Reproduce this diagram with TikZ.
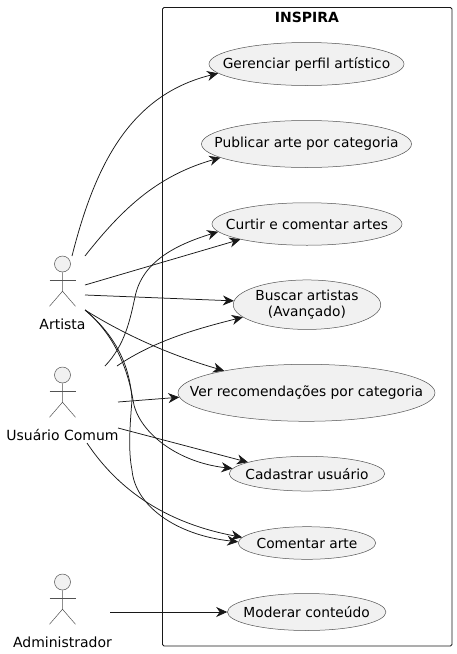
\documentclass[tikz,border=0pt]{standalone}
\usepackage{fontspec}
\setmainfont{DejaVu Sans}
\usetikzlibrary{arrows.meta, shapes.geometric, positioning, calc}
\definecolor{umlink}{RGB}{24,24,24}
\definecolor{umlfill}{RGB}{241,241,241}
\newcommand{\uctext}[1]{\makebox[0pt]{\shortstack[c]{#1}}}

\begin{document}
\begin{tikzpicture}[
  x=1pt, y=-1pt,
  usecase/.style={draw=umlink!75, fill=umlfill, ellipse, inner sep=0pt, line width=0.5pt,
              font=\fontsize{13.8}{16}\selectfont},
  system/.style={draw=umlink, rounded corners=1.5pt, line width=0.8pt},
  head/.style={draw=umlink!75, fill=umlfill, circle, inner sep=0pt, minimum size=16pt, line width=0.5pt},
  limb/.style={draw=umlink!75, line width=0.5pt},
  lbl/.style={font=\fontsize{14}{16}\selectfont, text=black, inner sep=0pt},
  arr/.style={-{Stealth[length=11pt, width=10pt, inset=3.5pt]}, color=umlink, line width=0.75pt},
  actor/.pic={
    \node[head] (-top) at (0,0) {};
    \draw[limb] (-top.south) -- ++(0,19) -- ++(-13,15) ++(13,-15) -- ++(13,15);
    \draw[limb] ($(-top.south)+(-13,8)$) -- ++(26,0);
  },
]
\useasboundingbox (0,0) rectangle (456,654);

% ── System ───────────────────────────────────────────────────
\draw[system] (162.5,7.5) rectangle (452,646);
\node[lbl, font=\fontsize{14}{16}\selectfont\bfseries] (inspira) at (307,17) {INSPIRA};

% ── Use cases ────────────────────────────────────────────────
\node[usecase, minimum width=195pt, minimum height=43pt] (gerenciar) at (306.5,64) {\uctext{Gerenciar perfil artístico}};
\node[usecase, minimum width=210pt, minimum height=47pt] (publicar) at (306.5,144) {\uctext{Publicar arte por categoria}};
\node[usecase, minimum width=190pt, minimum height=42.5pt] (curtir) at (307,224) {\uctext{Curtir e comentar artes}};
\node[usecase, minimum width=147.5pt, minimum height=49.5pt] (buscar) at (307,304.7) {\uctext{Buscar artistas\\[2.5pt](Avançado)}};
\node[usecase, minimum width=257pt, minimum height=57pt] (ver) at (306.5,392.8) {\uctext{Ver recomendações por categoria}};
\node[usecase, minimum width=155.5pt, minimum height=34.7pt] (cadastrar) at (307,473.7) {\uctext{Cadastrar usuário}};
\node[usecase, minimum width=137.5pt, minimum height=32.6pt] (comentar) at (307,543) {\uctext{Comentar arte}};
\node[usecase, minimum width=158.5pt, minimum height=37pt] (moderar) at (306.7,612) {\uctext{Moderar conteúdo}};

% ── Actors ───────────────────────────────────────────────────
\pic (artista) at (62.5,264) {actor};
\node[lbl] (artistalbl) at (62.5,324) {Artista};
\pic (comum) at (62.5,375) {actor};
\node[lbl] (comumlbl) at (62.5,435) {Usuário Comum};
\pic (admin) at (62.5,582) {actor};
\node[lbl] (adminlbl) at (62.5,642) {Administrador};

% free ends of the connectors
\coordinate (artA) at (72,256);
\coordinate (artB) at (85,256);
\coordinate (artC) at (85,285);
\coordinate (artD) at (85,295);
\coordinate (artE) at (85,310);
\coordinate (comA) at (105,366);
\coordinate (comB) at (117,366);
\coordinate (comC) at (118,402);
\coordinate (comD) at (118,428);
\coordinate (comE) at (87,443);
\coordinate (admA) at (110,612);

% ── Artista ──────────────────────────────────────────────────
\draw[arr] (artA) .. controls (95,165) and (130,95) .. (gerenciar.186);
\draw[arr] (artB) .. controls (125,205) and (160,175) .. (publicar.189);
\draw[arr] (artC) -- (curtir.193);
\draw[arr] (artD) -- (buscar.177.1);
\draw[arr] (artE) .. controls (125,335) and (170,355) .. (ver.165.9);
\draw[arr] (artE) .. controls (115,335) and (128,370) .. (133,400) .. controls (137,430) and (175,462) .. (cadastrar.176.5);
\draw[arr] (artE) .. controls (115,335) and (130,365) .. (132,400) .. controls (130,425) and (128,450) .. (132,470) .. controls (135,505) and (175,535) .. (comentar.179.4);

% ── Usuário Comum ────────────────────────────────────────────
\draw[arr] (comA) .. controls (125,345) and (130,320) .. (135,297) .. controls (142,262) and (175,245) .. (curtir.185);
\draw[arr] (comB) .. controls (155,340) and (200,328) .. (buscar.191.3);
\draw[arr] (comC) -- (ver.182.5);
\draw[arr] (comD) -- (cadastrar.169.2);
\draw[arr] (comE) .. controls (115,485) and (160,522) .. (comentar.175.3);

% ── Administrador ────────────────────────────────────────────
\draw[arr] (admA) -- (moderar.180);

\end{tikzpicture}
\end{document}
